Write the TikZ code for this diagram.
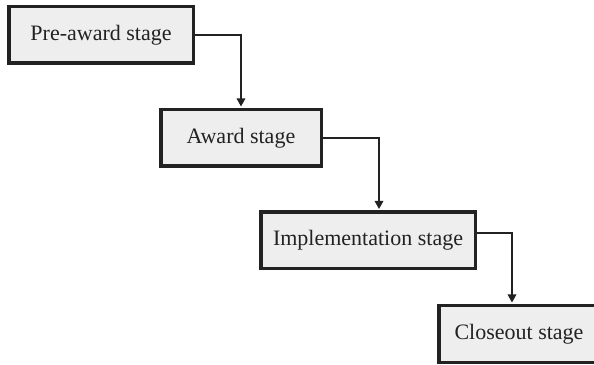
\documentclass[tikz,border=0pt]{standalone}
\usepackage{fontspec}
\setmainfont{Liberation Serif}
\usetikzlibrary{arrows.meta}
\definecolor{boxfill}{HTML}{EEEEEE}
\definecolor{ink}{HTML}{222222}
\begin{document}
\begin{tikzpicture}[x=1pt,y=1pt,
  stagebox/.style={draw=ink, fill=boxfill, line width=3.5pt, inner sep=0pt,
    minimum height=56.5pt, font=\fontsize{22}{26}\selectfont, text=ink, anchor=center},
  arr/.style={draw=ink, line width=1.6pt, -{Triangle[width=8.5pt,length=8pt]}, shorten >=1.5pt}
]
\useasboundingbox (0,0) rectangle (594,364);
\node[stagebox, minimum width=184.5pt] (b1) at (101,329) {Pre-award stage};
\node[stagebox, minimum width=160.5pt] (b2) at (241,226) {Award stage};
\node[stagebox, minimum width=214.5pt] (b3) at (368,123.5) {Implementation stage};
\node[stagebox, minimum width=160.5pt] (b4) at (519,30) {Closeout stage};
\draw[arr] (b1.east) -| (b2.north);
\draw[arr] (b2.east) -| ([xshift=11pt]b3.north);
\draw[arr] ([yshift=7.5pt]b3.east) -| ([xshift=-7pt]b4.north);
\end{tikzpicture}
\end{document}
